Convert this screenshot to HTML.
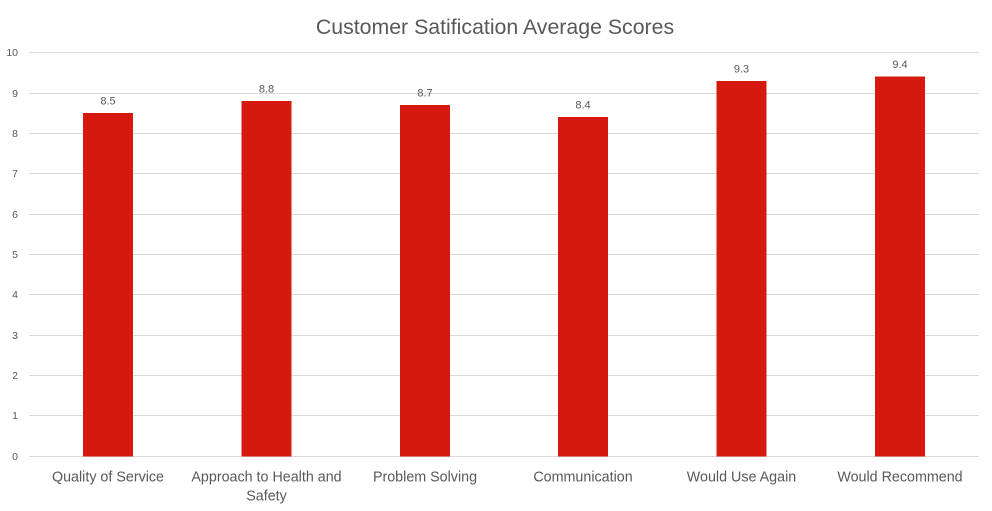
<!DOCTYPE html>
<html>
<head>
<meta charset="utf-8">
<style>
html,body{margin:0;padding:0;background:#fff;}
svg{display:block;}
text{font-family:"Liberation Sans",Arial,sans-serif;fill:#595959;}
</style>
</head>
<body>
<svg width="992" height="511" viewBox="0 0 992 511" xmlns="http://www.w3.org/2000/svg">
<rect width="992" height="511" fill="#fff"/>
<text x="495" y="34" font-size="21.3" text-anchor="middle">Customer Satification Average Scores</text>
<g stroke="#d9d9d9" stroke-width="1">
<line x1="29" x2="979" y1="52.5" y2="52.5"/>
<line x1="29" x2="979" y1="93.5" y2="93.5"/>
<line x1="29" x2="979" y1="133.5" y2="133.5"/>
<line x1="29" x2="979" y1="173.5" y2="173.5"/>
<line x1="29" x2="979" y1="214.5" y2="214.5"/>
<line x1="29" x2="979" y1="254.5" y2="254.5"/>
<line x1="29" x2="979" y1="294.5" y2="294.5"/>
<line x1="29" x2="979" y1="335.5" y2="335.5"/>
<line x1="29" x2="979" y1="375.5" y2="375.5"/>
<line x1="29" x2="979" y1="415.5" y2="415.5"/>
<line x1="29" x2="979" y1="456.5" y2="456.5"/>
</g>
<g font-size="10.5" text-anchor="end">
<text x="18" y="56">10</text>
<text x="18" y="97">9</text>
<text x="18" y="137">8</text>
<text x="18" y="177">7</text>
<text x="18" y="218">6</text>
<text x="18" y="258">5</text>
<text x="18" y="298">4</text>
<text x="18" y="339">3</text>
<text x="18" y="379">2</text>
<text x="18" y="419">1</text>
<text x="18" y="460">0</text>
</g>
<g fill="#d6190f">
<rect x="83" y="113" width="50" height="343.5"/>
<rect x="241.5" y="101" width="50" height="355.5"/>
<rect x="400" y="105" width="50" height="351.5"/>
<rect x="558" y="117" width="50" height="339.5"/>
<rect x="716.5" y="81" width="50" height="375.5"/>
<rect x="875" y="76.5" width="50" height="380"/>
</g>
<g font-size="11" text-anchor="middle">
<text x="108" y="104.5">8.5</text>
<text x="266.5" y="92.5">8.8</text>
<text x="425" y="96.5">8.7</text>
<text x="583" y="108.5">8.4</text>
<text x="741.5" y="72.5">9.3</text>
<text x="900" y="68">9.4</text>
</g>
<g font-size="14.3" text-anchor="middle">
<text x="108" y="481.5">Quality of Service</text>
<text x="266.5" y="481.5">Approach to Health and</text>
<text x="266.5" y="500.5">Safety</text>
<text x="425" y="481.5">Problem Solving</text>
<text x="583" y="481.5">Communication</text>
<text x="741.5" y="481.5">Would Use Again</text>
<text x="900" y="481.5">Would Recommend</text>
</g>
</svg>
</body>
</html>
